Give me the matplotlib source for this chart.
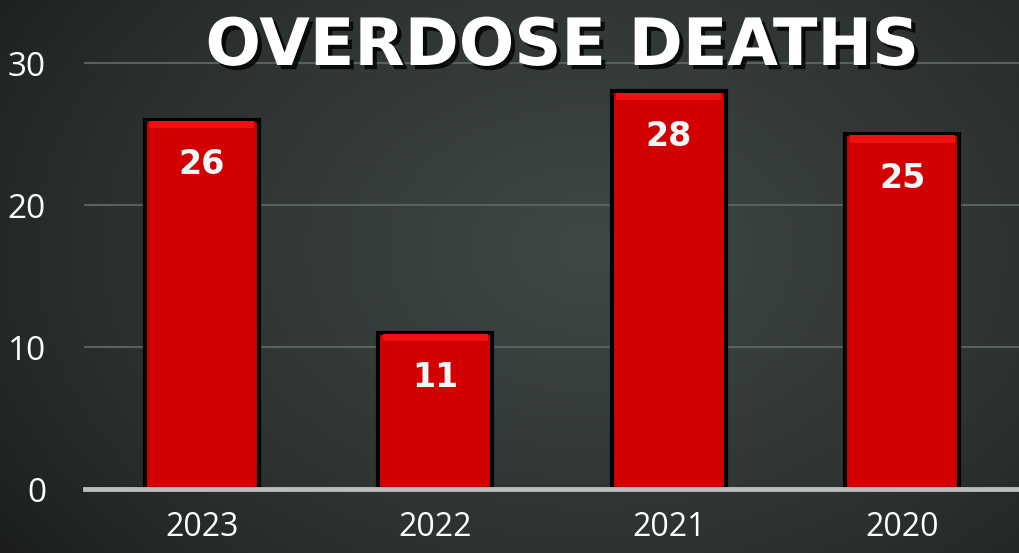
import numpy as np
import matplotlib
matplotlib.use("Agg")
import matplotlib.pyplot as plt
import matplotlib.patheffects as pe

# data
years = ["2023", "2022", "2021", "2020"]
deaths = [26, 11, 28, 25]
yticks = [0, 10, 20, 30]

W, H = 1019, 553
fig = plt.figure(figsize=(W / 100, H / 100), dpi=100)

# dark background, lighter toward the middle-right
bg = fig.add_axes([0, 0, 1, 1])
gx, gy = np.meshgrid(np.linspace(0, 1, 400), np.linspace(0, 1, 220))
r = np.sqrt(((gx - 0.58) / 0.7) ** 2 + ((gy - 0.55) / 0.9) ** 2)
shade = np.clip(1 - r, 0, 1) ** 0.8
c0 = np.array([0.11, 0.12, 0.12])
c1 = np.array([0.25, 0.28, 0.28])
img = c0 + (c1 - c0) * shade[..., None]
bg.imshow(img, extent=[0, 1, 0, 1], aspect="auto", origin="lower")
bg.axis("off")

ax = fig.add_axes([85 / W, (H - 489) / H, (W - 85) / W, 426 / H])
ax.set_facecolor("none")
x = np.arange(len(years))

ax.bar(x, deaths, width=0.49, color="#d20000", edgecolor="black",
       linewidth=3, zorder=3)
# light bevel at the top of each bar
ax.bar(x, [0.5] * len(x), bottom=np.array(deaths) - 0.6, width=0.45,
       color="#f01010", linewidth=0, zorder=4)

for xi, v in zip(x, deaths):
    ax.text(xi, v - 3.15, str(v), ha="center", va="center", color="#eef8f8",
            fontsize=24, fontweight="bold", zorder=5)

ax.set_xlim(-0.5, 3.5)
ax.set_ylim(0, 30)
for t in yticks[1:]:
    ax.axhline(t, color="#586060", linewidth=1.5, zorder=1, clip_on=False)
ax.axhline(0, color="#b9bdbd", linewidth=3.5, zorder=6, clip_on=False)

for s in ax.spines.values():
    s.set_visible(False)
ax.set_yticks(yticks)
ax.set_yticklabels([str(t) for t in yticks], family="Open Sans", fontsize=24,
                   color="white")
ax.set_xticks(x)
ax.set_xticklabels(years, family="Open Sans", fontsize=23, color="white")
ax.tick_params(axis="y", length=0, pad=28)
ax.tick_params(axis="x", length=0, pad=16)

fig.text(562 / W, 1 - 47 / H, "OVERDOSE DEATHS", ha="center", va="center",
         color="white", fontsize=47, fontweight="bold", family="DejaVu Sans",
         path_effects=[pe.withSimplePatchShadow(offset=(3, -3), shadow_rgbFace="black", alpha=0.8)])

fig.savefig("out.png", dpi=100)
